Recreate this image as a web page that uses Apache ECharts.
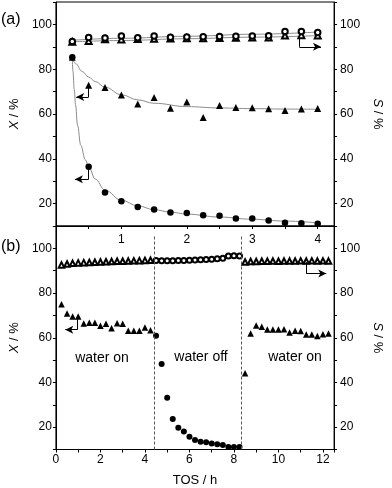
<!DOCTYPE html>
<html><head><meta charset="utf-8">
<script src="https://cdn.jsdelivr.net/npm/echarts@6/dist/echarts.min.js"></script>
<style>html,body{margin:0;padding:0;background:#fff}#c{width:392px;height:488px}</style>
</head><body><div id="c"></div>
<script>
// ---------- Panel (a) data ----------
const xA = [0.25,0.5,0.75,1.0,1.25,1.5,1.75,2.0,2.25,2.5,2.75,3.0,3.25,3.5,3.75,4.0];
const convCircA = [85.3,36.4,24.9,21.0,18.5,17.4,16.0,15.8,14.8,14.6,13.3,13.3,12.5,11.5,11.2,11.0];
const convTriA  = [85.3,72.8,71.8,68.5,64.5,67.4,62.6,65.4,58.4,63.8,62.9,62.8,62.3,61.6,62.2,62.4];
const selCircA  = [92.4,94.2,93.9,94.8,94.0,94.8,94.3,94.4,94.5,94.6,94.7,94.8,94.9,96.8,96.8,96.4];
const selTriA   = [92.2,92.6,93.4,93.3,93.5,93.6,93.7,93.8,93.8,93.9,94.0,94.1,94.2,95.0,95.2,95.1];
// fitted curves
const fitCircX = [0.25,0.26,0.28,0.3,0.33,0.38,0.45,0.5,0.6,0.75,1.0,1.25,1.5,1.75,2.0,2.5,3.0,3.5,4.0];
const fitCircY = [85,79,71,64,55,46,39.5,36.5,31,26,21.5,19,17.3,16.2,15.3,14,13,12.2,11.4];
const fitTriX  = [0.25,0.3,0.4,0.5,0.6,0.75,1.0,1.25,1.5,2.0,2.5,3.0,3.5,4.0];
const fitTriY  = [85,82.5,79,76.5,74.5,72,68.6,66.3,64.8,63.3,62.7,62.4,62.2,62.1];
const fitSelX  = [0.25,1,2,3,4];
const fitSelUpY = [92.9,93.8,94.7,95.6,96.6];
const fitSelLoY = [92.2,92.8,93.6,94.3,95.0];
// ---------- Panel (b) data ----------
const xB1 = [0.25,0.5,0.75,1.0,1.25,1.5,1.75,2.0,2.25,2.5,2.75,3.0,3.25,3.5,3.75,4.0,4.25];
const convTriB1 = [75.0,70.8,69.5,69.5,66.4,66.7,66.7,65.4,66.3,64.3,66.5,66.3,63.1,63.1,63.1,64.6,63.4];
const selTriB1  = [92.6,93.0,93.3,93.5,93.6,93.7,93.8,93.9,94.0,94.1,94.2,94.2,94.3,94.4,94.5,94.6,94.7];
const xB2 = [4.5,4.75,5.0,5.25,5.5,5.75,6.0,6.25,6.5,6.75,7.0,7.25,7.5,7.75,8.0,8.25];
const convCircB2 = [60.9,48.3,33.1,23.7,19.7,18.0,15.7,14.2,13.5,13.2,12.7,12.3,12.0,11.1,11.1,11.1];
const selCircB2  = [94.6,94.5,94.5,94.5,94.6,94.6,94.7,94.8,94.9,95.0,95.1,95.3,95.6,96.6,96.7,96.6];
const xB3 = [8.5,8.75,9.0,9.25,9.5,9.75,10.0,10.25,10.5,10.75,11.0,11.25,11.5,11.75,12.0,12.25];
const convTriB3 = [44.1,61.9,65.5,64.9,63.7,63.7,63.7,63.8,62.4,63.1,63.0,61.5,61.4,60.8,61.6,61.9];
const selTriB3  = [93.9,94.1,94.1,94.2,94.2,94.3,94.2,94.3,94.3,94.3,94.4,94.3,94.4,94.3,94.4,94.3];
// water switching times
const waterSwitch = [4.4, 8.35];
const waterLabels = ['water on','water off','water on'];
// annotation arrows: [start, corner, tip] in data coords
const arrowsA = [
  [[0.5,72.8],[0.5,67.6],[0.31,67.6]],
  [[0.5,36.4],[0.5,30.9],[0.29,30.9]],
  [[3.72,96.6],[3.72,90.0],[4.05,90.0]]
];
const arrowsB = [
  [[0.96,69.4],[0.96,63.6],[0.42,63.6]],
  [[11.25,93.8],[11.25,88.7],[12.15,88.7]]
];

const FONT = "'Liberation Sans', Arial, sans-serif";
const pair = (xs, ys) => xs.map((x,i)=>[x, ys[i]]);

function arrowLines(list){
  const out = [];
  list.forEach(a=>{
    out.push([{coord:a[0], symbol:'none'},{coord:a[1], symbol:'none'}]);
    out.push([{coord:a[1], symbol:'none'},{coord:a[2], symbol:'arrow', symbolSize:[6,8]}]);
  });
  return out;
}

function xAx(grid, max, interval, margin, fmt, name){
  return {
    gridIndex:grid, type:'value', min:0, max:max, interval:interval,
    axisLine:{onZero:false, lineStyle:{color:'#000', width:1}},
    axisTick:{length:3, lineStyle:{color:'#000'}},
    splitLine:{show:false},
    axisLabel:{margin:margin, color:'#000', fontSize:12, fontFamily:FONT, formatter:fmt},
    name:name||'', nameLocation:'middle', nameGap:24,
    nameTextStyle:{color:'#000', fontSize:13, fontFamily:FONT}
  };
}
function yAx(grid, pos, sym){
  const right = pos==='right';
  return {
    gridIndex:grid, type:'value', position:pos, min:10, max:110, interval:10,
    axisLine:{onZero:false, lineStyle:{color:'#000', width:1}},
    axisTick:{length:3, lineStyle:{color:'#000'}},
    splitLine:{show:false},
    axisLabel:{margin:right?6:4, color:'#000', fontSize:12, fontFamily:FONT,
      formatter:v => (v%20===0 && v>=20 && v<=100) ? String(v) : ''},
    name:'{i|'+sym+'} / %', nameLocation:'middle', nameGap:30,
    nameRotate:right?-90:90,
    nameTextStyle:{color:'#000', fontSize:13, fontFamily:FONT,
      rich:{i:{fontStyle:'italic', fontSize:13, fontFamily:FONT, color:'#000'}}}
  };
}

const fitStyle = {color:'#8c8c8c', width:1};
function fitLine(xs, ys){
  return {type:'line', xAxisIndex:0, yAxisIndex:0, data:pair(xs,ys), smooth:0.4,
    smoothMonotone:'x', showSymbol:false, symbol:'none', lineStyle:fitStyle, z:1, silent:true};
}
function pts(xi, yi, xs, ys, symbol, size, extra){
  const empty = symbol.indexOf('empty')===0;
  return Object.assign({type:'scatter', xAxisIndex:xi, yAxisIndex:yi, data:pair(xs,ys),
    symbol:symbol, symbolSize:size,
    itemStyle:{color:'#000', borderColor:'#000', borderWidth:empty?0.8:0, opacity:1},
    z:3, silent:true}, extra||{});
}
const mlBase = {silent:true, label:{show:false}, emphasis:{disabled:true},
  lineStyle:{color:'#000', width:1, type:'solid', opacity:1}, animation:false};

const option = {
  animation:false,
  backgroundColor:'#fff',
  grid:[
    {left:50, top:2, width:297, height:224, show:true, borderColor:'#000', borderWidth:1, backgroundColor:'transparent'},
    {left:50, top:226, width:297, height:223.5, show:true, borderColor:'#000', borderWidth:1, backgroundColor:'transparent'}
  ],
  xAxis:[
    xAx(0, 4.25, 0.5, 8, v => (Number.isInteger(v) && v>0 && v<=4) ? String(v) : ''),
    xAx(1, 12.5, 1, 4, v => (v%2===0 && v<=12) ? String(v) : '', 'TOS / h')
  ],
  yAxis:[ yAx(0,'left','X'), yAx(0,'right','S'), yAx(1,'left','X'), yAx(1,'right','S') ],
  series:[
    fitLine(fitCircX, fitCircY),
    fitLine(fitTriX, fitTriY),
    fitLine(fitSelX, fitSelUpY),
    fitLine(fitSelX, fitSelLoY),
    pts(0,0,xA,convCircA,'circle',6.5),
    pts(0,0,xA,convTriA,'triangle',7),
    pts(0,0,xA,selTriA,'emptyTriangle',6),
    pts(0,0,xA,selCircA,'emptyCircle',5.5, {markLine:Object.assign({}, mlBase, {symbol:'none', data:arrowLines(arrowsA)})}),
    pts(1,2,xB1,convTriB1,'triangle',6.5),
    pts(1,2,xB2,convCircB2,'circle',6),
    pts(1,2,xB3,convTriB3,'triangle',6.5),
    pts(1,2,xB1,selTriB1,'emptyTriangle',5.5),
    pts(1,2,xB2,selCircB2,'emptyCircle',5),
    pts(1,2,xB3,selTriB3,'emptyTriangle',5.5, {markLine:Object.assign({}, mlBase, {symbol:'none', data:arrowLines(arrowsB).concat(
      waterSwitch.map(w=>[{coord:[w,10], symbol:'none', lineStyle:{type:[3,2], color:'#555'}},{coord:[w,105.5], symbol:'none'}])
    )})})
  ],
  graphic:[
    {type:'text', x:1, y:20, style:{text:'(a)', font:"16px "+FONT, fill:'#000', align:'left', verticalAlign:'middle'}},
    {type:'text', x:1, y:247, style:{text:'(b)', font:"16px "+FONT, fill:'#000', align:'left', verticalAlign:'middle'}},
    {type:'text', x:102, y:358, style:{text:waterLabels[0], font:"14px "+FONT, fill:'#000', align:'center', verticalAlign:'middle'}},
    {type:'text', x:201, y:357, style:{text:waterLabels[1], font:"14px "+FONT, fill:'#000', align:'center', verticalAlign:'middle'}},
    {type:'text', x:295, y:357, style:{text:waterLabels[2], font:"14px "+FONT, fill:'#000', align:'center', verticalAlign:'middle'}}
  ]
};
const chart = echarts.init(document.getElementById('c'), null, {renderer:'canvas'});
chart.setOption(option);
</script></body></html>
